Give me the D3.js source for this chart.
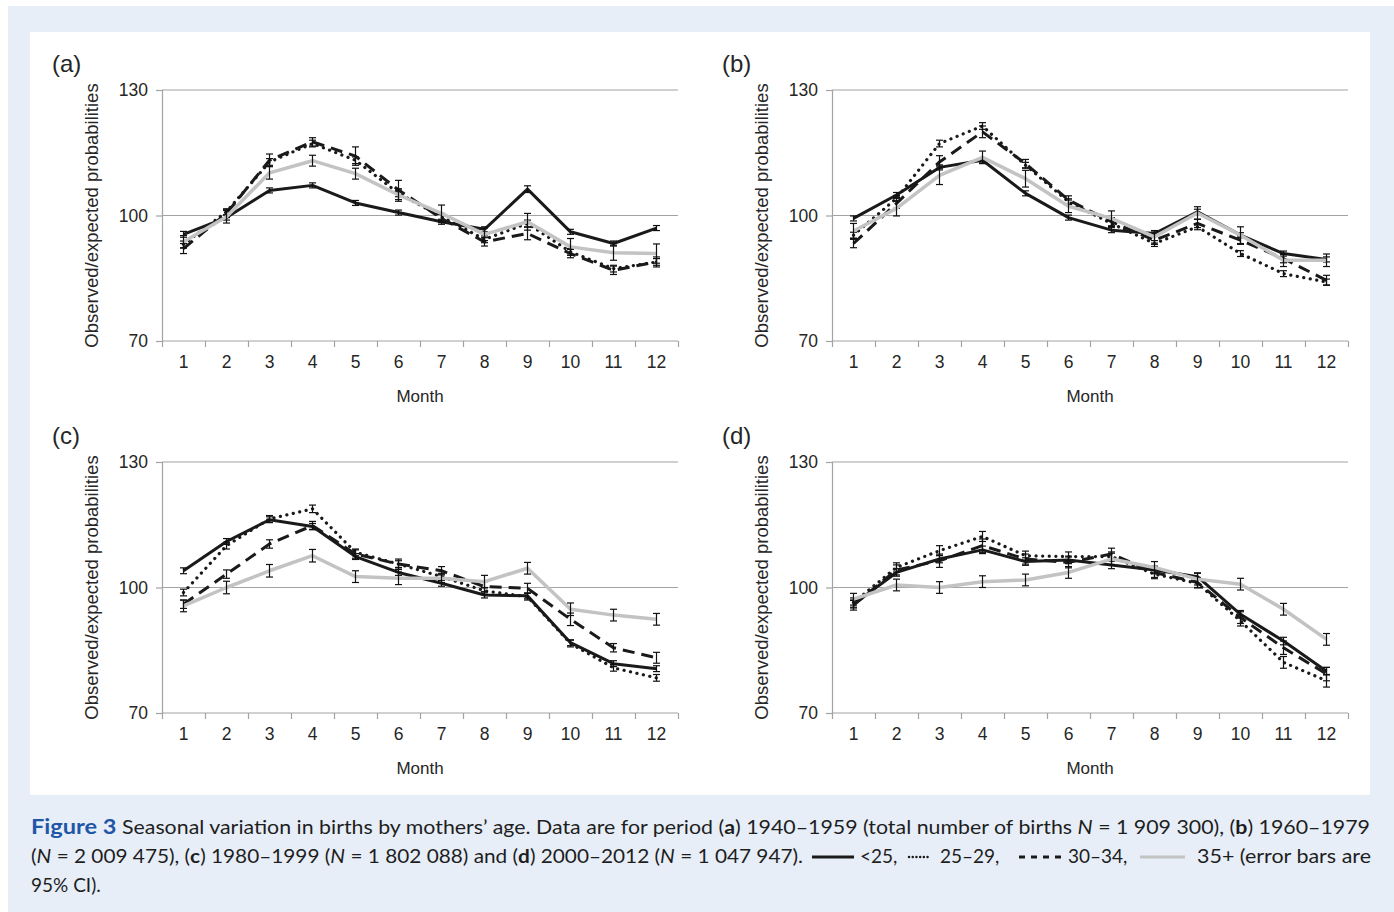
<!DOCTYPE html>
<html>
<head>
<meta charset="utf-8">
<script src="https://cdn.jsdelivr.net/npm/d3@7"></script>
<style>
  body { margin: 0; background: #fff; }
  svg { display: block; }
</style>
</head>
<body>
<svg id="chart" width="1394" height="912"></svg>
<script>
// data (observed/expected, 100 = expected)
var months = [1, 2, 3, 4, 5, 6, 7, 8, 9, 10, 11, 12];
var ageGroups = ["<25", "25–29", "30–34", "35+"];
var panelLabels = ["(a)", "(b)", "(c)", "(d)"];
var yTicks = [70, 100, 130];

// (a) 1940-1959
var a_lt25  = [95.5, 99.5, 106.0, 107.2, 103.0, 100.7, 98.5, 96.7, 106.3, 96.1, 93.3, 97.0];
var a_25_29 = [93.1, 100.9, 112.8, 117.2, 113.2, 105.3, 99.7, 94.3, 98.1, 91.3, 87.3, 88.9];
var a_30_34 = [92.1, 100.5, 113.2, 117.6, 114.2, 106.1, 99.3, 93.7, 95.7, 90.9, 86.9, 88.9];
var a_35p   = [93.7, 99.7, 110.2, 113.1, 110.0, 104.9, 100.5, 95.5, 98.5, 92.5, 91.1, 90.9];
var a_lt25_ci  = [0.7, 0.6, 0.6, 0.6, 0.6, 0.6, 0.6, 0.6, 0.8, 0.6, 0.6, 0.6];
var a_25_29_ci = [0.8, 0.7, 0.8, 0.8, 0.8, 0.8, 0.8, 0.8, 0.8, 0.8, 0.8, 0.8];
var a_30_34_ci = [1.2, 1.0, 1.5, 1.0, 2.2, 2.3, 1.0, 1.0, 1.5, 1.0, 1.0, 1.2];
var a_35p_ci   = [1.5, 1.5, 1.5, 1.3, 1.3, 1.5, 2.0, 1.5, 2.0, 2.0, 1.8, 2.3];

// (b) 1960-1979
var b_lt25  = [99.3, 104.9, 111.5, 113.2, 105.3, 99.5, 96.5, 95.7, 100.9, 95.3, 90.9, 89.5];
var b_25_29 = [95.3, 104.1, 117.2, 121.4, 112.0, 103.3, 98.1, 93.3, 97.3, 90.9, 86.1, 84.1];
var b_30_34 = [93.3, 102.9, 112.8, 120.0, 112.4, 103.7, 98.5, 94.1, 98.1, 94.1, 89.7, 84.5];
var b_35p   = [96.3, 101.7, 109.6, 113.9, 108.8, 102.2, 99.3, 94.9, 100.6, 95.3, 89.3, 89.3];
var b_lt25_ci  = [0.6, 0.6, 0.6, 0.6, 0.6, 0.6, 0.6, 0.6, 0.6, 0.6, 0.6, 0.6];
var b_25_29_ci = [0.7, 0.7, 0.8, 0.8, 0.7, 0.7, 0.7, 0.7, 0.7, 0.7, 0.7, 0.7];
var b_30_34_ci = [1.0, 1.2, 1.5, 1.4, 1.0, 1.0, 1.0, 1.0, 1.0, 1.0, 1.0, 1.2];
var b_35p_ci   = [1.8, 1.8, 2.2, 1.5, 2.0, 1.5, 1.8, 1.5, 1.5, 2.0, 1.5, 1.5];

// (c) 1980-1999
var c_lt25  = [104.0, 111.0, 116.2, 114.6, 107.4, 103.6, 101.0, 98.2, 98.0, 86.8, 81.8, 80.6];
var c_25_29 = [98.8, 110.0, 116.4, 118.8, 108.4, 105.6, 102.6, 99.2, 97.8, 86.6, 80.8, 78.4];
var c_30_34 = [96.0, 103.2, 110.4, 114.8, 108.0, 105.6, 104.0, 100.2, 99.8, 92.4, 85.6, 83.2];
var c_35p   = [95.6, 100.0, 104.0, 107.6, 102.6, 102.2, 102.2, 101.4, 104.6, 94.8, 93.4, 92.4];
var c_lt25_ci  = [0.7, 0.7, 0.7, 0.7, 0.7, 0.7, 0.7, 0.7, 0.7, 0.7, 0.7, 0.7];
var c_25_29_ci = [0.8, 0.8, 0.8, 0.9, 0.8, 0.8, 0.8, 0.8, 0.8, 0.8, 0.8, 0.8];
var c_30_34_ci = [1.0, 1.0, 1.0, 1.0, 1.0, 1.2, 1.0, 1.2, 1.2, 1.5, 1.0, 1.3];
var c_35p_ci   = [1.4, 1.5, 1.5, 1.5, 1.4, 1.5, 1.0, 1.5, 1.4, 1.5, 1.4, 1.4];

// (d) 2000-2012
var d_lt25  = [96.0, 103.6, 106.8, 109.0, 106.2, 106.6, 105.4, 104.2, 102.6, 93.6, 87.2, 80.0];
var d_25_29 = [96.4, 104.8, 108.8, 112.2, 107.6, 107.4, 107.4, 103.2, 101.0, 92.0, 82.1, 77.7];
var d_30_34 = [95.8, 104.2, 106.4, 110.0, 106.8, 106.0, 108.0, 103.6, 101.2, 92.8, 85.6, 79.3];
var d_35p   = [97.2, 100.6, 100.0, 101.4, 101.8, 103.6, 106.8, 104.8, 102.0, 100.8, 94.8, 87.6];
var d_lt25_ci  = [0.9, 0.9, 0.9, 0.9, 0.9, 0.9, 0.9, 0.9, 0.9, 0.9, 0.9, 0.9];
var d_25_29_ci = [1.1, 1.1, 1.2, 1.2, 1.1, 1.1, 1.1, 1.1, 1.1, 1.2, 1.4, 1.5];
var d_30_34_ci = [1.2, 1.2, 1.6, 1.6, 1.2, 1.3, 1.4, 1.2, 1.2, 1.4, 1.6, 1.6];
var d_35p_ci   = [1.4, 1.4, 1.4, 1.4, 1.4, 1.4, 1.4, 1.4, 1.4, 1.4, 1.4, 1.4];

var panelData = [
  [a_lt25, a_25_29, a_30_34, a_35p],
  [b_lt25, b_25_29, b_30_34, b_35p],
  [c_lt25, c_25_29, c_30_34, c_35p],
  [d_lt25, d_25_29, d_30_34, d_35p]
];
var panelCI = [
  [a_lt25_ci, a_25_29_ci, a_30_34_ci, a_35p_ci],
  [b_lt25_ci, b_25_29_ci, b_30_34_ci, b_35p_ci],
  [c_lt25_ci, c_25_29_ci, c_30_34_ci, c_35p_ci],
  [d_lt25_ci, d_25_29_ci, d_30_34_ci, d_35p_ci]
];

// line styles per age group
var STYLES = [
  {stroke: "#1a1a1a", width: 3,   dash: null,      cap: "butt"},
  {stroke: "#1a1a1a", width: 3.2, dash: "0.1 6.5", cap: "round"},
  {stroke: "#1a1a1a", width: 3,   dash: "12 7",    cap: "butt"},
  {stroke: "#c3c3c3", width: 3.5, dash: null,      cap: "butt"}
];

var AXIS_COLOR = "#a3a3a3";
var TEXT_COLOR = "#262626";
var FONT = "'Liberation Sans', Arial, sans-serif";
var PLOT_W = 516, PLOT_H = 251;
var origins = [[162, 90], [832, 90], [162, 462], [832, 462]];

var svg = d3.select("#chart");

// page background + white figure box
svg.append("rect").attr("x", 8).attr("y", 6).attr("width", 1386).attr("height", 906).attr("fill", "#e7eef8");
svg.append("rect").attr("x", 30).attr("y", 32).attr("width", 1340).attr("height", 763).attr("fill", "#fff");

function drawPanel(idx) {
  var ox = origins[idx][0], oy = origins[idx][1];
  var g = svg.append("g").attr("transform", "translate(" + ox + "," + oy + ")");

  var x = d3.scaleBand().domain(months).range([0, PLOT_W]).padding(0);
  var xEdge = d3.scaleLinear().domain([0, 12]).range([0, PLOT_W]);
  var y = d3.scaleLinear().domain([70, 130]).range([PLOT_H, 0]);
  var cx = function(m) { return x(m) + x.bandwidth() / 2; };

  // gridlines
  g.append("g").selectAll("line").data(yTicks).enter().append("line")
    .attr("x1", 0).attr("x2", PLOT_W)
    .attr("y1", function(d) { return y(d); }).attr("y2", function(d) { return y(d); })
    .attr("stroke", AXIS_COLOR).attr("stroke-width", 1.2);

  // y axis
  var yAxis = g.append("g").call(d3.axisLeft(y).tickValues(yTicks).tickSize(6).tickPadding(8));
  yAxis.select(".domain").attr("stroke", AXIS_COLOR).attr("stroke-width", 1.2);
  yAxis.selectAll(".tick line").attr("stroke", AXIS_COLOR).attr("stroke-width", 1.2);
  yAxis.selectAll("text").attr("fill", TEXT_COLOR).style("font", "17.5px " + FONT);

  // x axis: boundary ticks, centred labels
  var xTicks = g.append("g").attr("transform", "translate(0," + PLOT_H + ")")
    .call(d3.axisBottom(xEdge).tickValues(d3.range(13)).tickSize(6).tickFormat(""));
  xTicks.select(".domain").remove();
  xTicks.selectAll(".tick line").attr("stroke", AXIS_COLOR).attr("stroke-width", 1.2);

  var xLabels = g.append("g").attr("transform", "translate(0," + PLOT_H + ")")
    .call(d3.axisBottom(x).tickSize(0).tickPadding(15));
  xLabels.select(".domain").remove();
  xLabels.selectAll("text").attr("fill", TEXT_COLOR).style("font", "17.5px " + FONT);

  g.append("text").attr("x", PLOT_W / 2).attr("y", PLOT_H + 61)
    .attr("text-anchor", "middle").attr("fill", TEXT_COLOR)
    .style("font", "17px " + FONT).text("Month");

  g.append("text").attr("transform", "translate(-64," + (PLOT_H / 2) + ") rotate(-90)")
    .attr("text-anchor", "middle").attr("fill", TEXT_COLOR)
    .style("font", "18.5px " + FONT).text("Observed/expected probabilities");

  g.append("text").attr("x", -110).attr("y", -18).attr("fill", TEXT_COLOR)
    .style("font", "24px " + FONT).text(panelLabels[idx]);

  var line = d3.line().x(function(d) { return cx(d.m); }).y(function(d) { return y(d.v); });

  panelData[idx].forEach(function(vals, si) {
    var pts = months.map(function(m, i) { return {m: m, v: vals[i], e: panelCI[idx][si][i]}; });
    var st = STYLES[si];
    g.append("path").datum(pts).attr("d", line)
      .attr("fill", "none").attr("stroke", st.stroke).attr("stroke-width", st.width)
      .attr("stroke-dasharray", st.dash).attr("stroke-linecap", st.cap)
      .attr("stroke-linejoin", "round");

    var eb = g.append("g").selectAll("g").data(pts).enter().append("g")
      .attr("stroke", "#111").attr("stroke-width", 1.2);
    eb.append("line").attr("x1", function(d) { return cx(d.m); }).attr("x2", function(d) { return cx(d.m); })
      .attr("y1", function(d) { return y(d.v - d.e); }).attr("y2", function(d) { return y(d.v + d.e); });
    eb.append("line").attr("x1", function(d) { return cx(d.m) - 3.5; }).attr("x2", function(d) { return cx(d.m) + 3.5; })
      .attr("y1", function(d) { return y(d.v + d.e); }).attr("y2", function(d) { return y(d.v + d.e); });
    eb.append("line").attr("x1", function(d) { return cx(d.m) - 3.5; }).attr("x2", function(d) { return cx(d.m) + 3.5; })
      .attr("y1", function(d) { return y(d.v - d.e); }).attr("y2", function(d) { return y(d.v - d.e); });
  });
}

for (var p = 0; p < 4; p++) drawPanel(p);

// caption
var CAP_FONT = "Lato, 'Open Sans', sans-serif";
var cap = svg.append("g").attr("fill", "#1e1e1e").style("font", "19px " + CAP_FONT);

var l1 = cap.append("text").attr("x", 31).attr("y", 834)
  .attr("textLength", 1339).attr("lengthAdjust", "spacingAndGlyphs");
l1.append("tspan").attr("fill", "#1f56a8").style("font-weight", "bold").style("font-size", "21px").text("Figure 3");
l1.append("tspan").text("  Seasonal variation in births by mothers’ age. Data are for period (");
l1.append("tspan").style("font-weight", "bold").text("a");
l1.append("tspan").text(") 1940–1959 (total number of births ");
l1.append("tspan").style("font-style", "italic").text("N");
l1.append("tspan").text(" = 1 909 300), (");
l1.append("tspan").style("font-weight", "bold").text("b");
l1.append("tspan").text(") 1960–1979");

var l2 = cap.append("text").attr("x", 31).attr("y", 863)
  .attr("textLength", 772).attr("lengthAdjust", "spacingAndGlyphs");
l2.append("tspan").text("(");
l2.append("tspan").style("font-style", "italic").text("N");
l2.append("tspan").text(" = 2 009 475), (");
l2.append("tspan").style("font-weight", "bold").text("c");
l2.append("tspan").text(") 1980–1999 (");
l2.append("tspan").style("font-style", "italic").text("N");
l2.append("tspan").text(" = 1 802 088) and (");
l2.append("tspan").style("font-weight", "bold").text("d");
l2.append("tspan").text(") 2000–2012 (");
l2.append("tspan").style("font-style", "italic").text("N");
l2.append("tspan").text(" = 1 047 947).");

// legend samples inside the caption
var legendX = [812, 909, 1019, 1140];
var legendW = [42, 22, 43, 45];
var legendDash = [null, "0.1 3.6", "6 6", null];
var legendText = ["<25,", "25–29,", "30–34,", "35+ (error bars are"];
var legendTextX = [860, 940, 1068, 1197];
ageGroups.forEach(function(gName, i) {
  cap.append("line").attr("x1", legendX[i]).attr("x2", legendX[i] + legendW[i])
    .attr("y1", 857).attr("y2", 857)
    .attr("stroke", STYLES[i].stroke).attr("stroke-width", i === 1 ? 2.4 : 3)
    .attr("stroke-dasharray", legendDash[i]).attr("stroke-linecap", i === 1 ? "round" : "butt");
  var t = cap.append("text").attr("x", legendTextX[i]).attr("y", 863).text(legendText[i]);
  if (i === 3) t.attr("textLength", 174).attr("lengthAdjust", "spacingAndGlyphs");
});

cap.append("text").attr("x", 31).attr("y", 892).text("95% CI).");
</script>
</body>
</html>
